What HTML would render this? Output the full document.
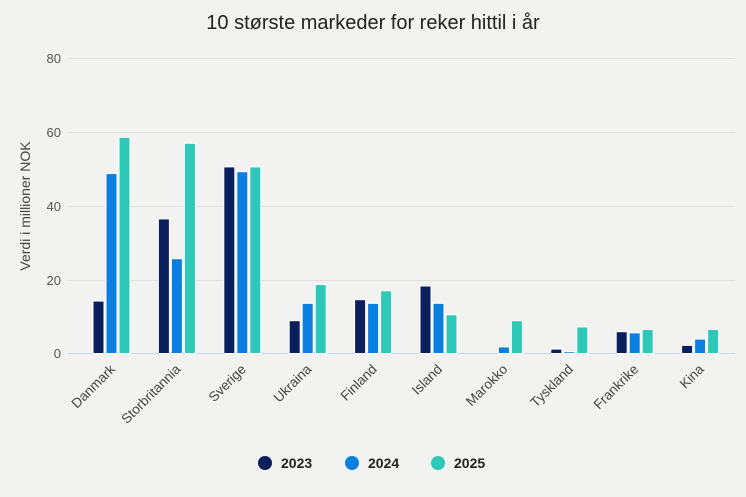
<!DOCTYPE html><html><head><style>body{margin:0;background:#f2f2f0}svg{display:block;font-family:"Liberation Sans",sans-serif}</style></head><body>
<svg width="746" height="497" xmlns="http://www.w3.org/2000/svg">
<rect width="746" height="497" fill="#f2f2f0"/>
<text x="373" y="29" font-size="20" text-anchor="middle" fill="#222">10 største markeder for reker hittil i år</text>
<g stroke="#e0e0e0" stroke-width="1">
<line x1="68" x2="735" y1="58.5" y2="58.5"/><line x1="68" x2="735" y1="132.5" y2="132.5"/><line x1="68" x2="735" y1="206.5" y2="206.5"/><line x1="68" x2="735" y1="280.5" y2="280.5"/>
</g>
<line x1="68" x2="735" y1="353.5" y2="353.5" stroke="#c8d4e8"/>
<g font-size="13" fill="#555" text-anchor="end">
<text x="61" y="63">80</text><text x="61" y="137">60</text><text x="61" y="211">40</text><text x="61" y="285">20</text><text x="61" y="358">0</text>
</g>
<text transform="translate(30,206) rotate(-90)" font-size="14" fill="#444" text-anchor="middle">Verdi i millioner NOK</text>
<g stroke="#fff" stroke-width="1">
<g fill="#0a1f5c">
<rect x="93" y="301.1" width="11" height="52.4"/>
<rect x="158.4" y="218.9" width="11" height="134.6"/>
<rect x="223.8" y="166.9" width="11" height="186.6"/>
<rect x="289.2" y="320.7" width="11" height="32.8"/>
<rect x="354.6" y="299.7" width="11" height="53.8"/>
<rect x="420" y="286" width="11" height="67.5"/>
<rect x="550.8" y="349.1" width="11" height="4.4"/>
<rect x="616.2" y="331.7" width="11" height="21.8"/>
<rect x="681.6" y="345.4" width="11" height="8.1"/>
</g>
<g fill="#0a7fe0">
<rect x="106" y="173.55" width="11" height="179.95"/>
<rect x="171.4" y="258.7" width="11" height="94.8"/>
<rect x="236.8" y="171.7" width="11" height="181.8"/>
<rect x="302.2" y="303.35" width="11" height="50.15"/>
<rect x="367.6" y="303.35" width="11" height="50.15"/>
<rect x="433" y="303.35" width="11" height="50.15"/>
<rect x="498.4" y="346.9" width="11" height="6.6"/>
<rect x="563.8" y="351.7" width="11" height="1.8"/>
<rect x="629.2" y="332.85" width="11" height="20.65"/>
<rect x="694.6" y="339.1" width="11" height="14.4"/>
</g>
<g fill="#2ec8b8">
<rect x="119" y="137.4" width="11" height="216.1"/>
<rect x="184.4" y="143.3" width="11" height="210.2"/>
<rect x="249.8" y="166.9" width="11" height="186.6"/>
<rect x="315.2" y="284.5" width="11" height="69"/>
<rect x="380.6" y="290.8" width="11" height="62.7"/>
<rect x="446" y="314.8" width="11" height="38.7"/>
<rect x="511.4" y="320.7" width="11" height="32.8"/>
<rect x="576.8" y="326.95" width="11" height="26.55"/>
<rect x="642.2" y="329.5" width="11" height="24"/>
<rect x="707.6" y="329.5" width="11" height="24"/>
</g>
</g>
<g font-size="13.6" fill="#444" text-anchor="end">
<text transform="translate(116,370) rotate(-45)">Danmark</text>
<text transform="translate(181.4,370) rotate(-45)">Storbritannia</text>
<text transform="translate(246.8,370) rotate(-45)">Sverige</text>
<text transform="translate(312.2,370) rotate(-45)">Ukraina</text>
<text transform="translate(377.6,370) rotate(-45)">Finland</text>
<text transform="translate(443,370) rotate(-45)">Island</text>
<text transform="translate(508.4,370) rotate(-45)">Marokko</text>
<text transform="translate(573.8,370) rotate(-45)">Tyskland</text>
<text transform="translate(639.2,370) rotate(-45)">Frankrike</text>
<text transform="translate(704.6,370) rotate(-45)">Kina</text>
</g>
<g font-size="14" font-weight="bold" fill="#222">
<circle cx="265" cy="463" r="7" fill="#0a1f5c"/><text x="281" y="468">2023</text>
<circle cx="352" cy="463" r="7" fill="#0a7fe0"/><text x="368" y="468">2024</text>
<circle cx="438" cy="463" r="7" fill="#2ec8b8"/><text x="454" y="468">2025</text>
</g>
</svg></body></html>
